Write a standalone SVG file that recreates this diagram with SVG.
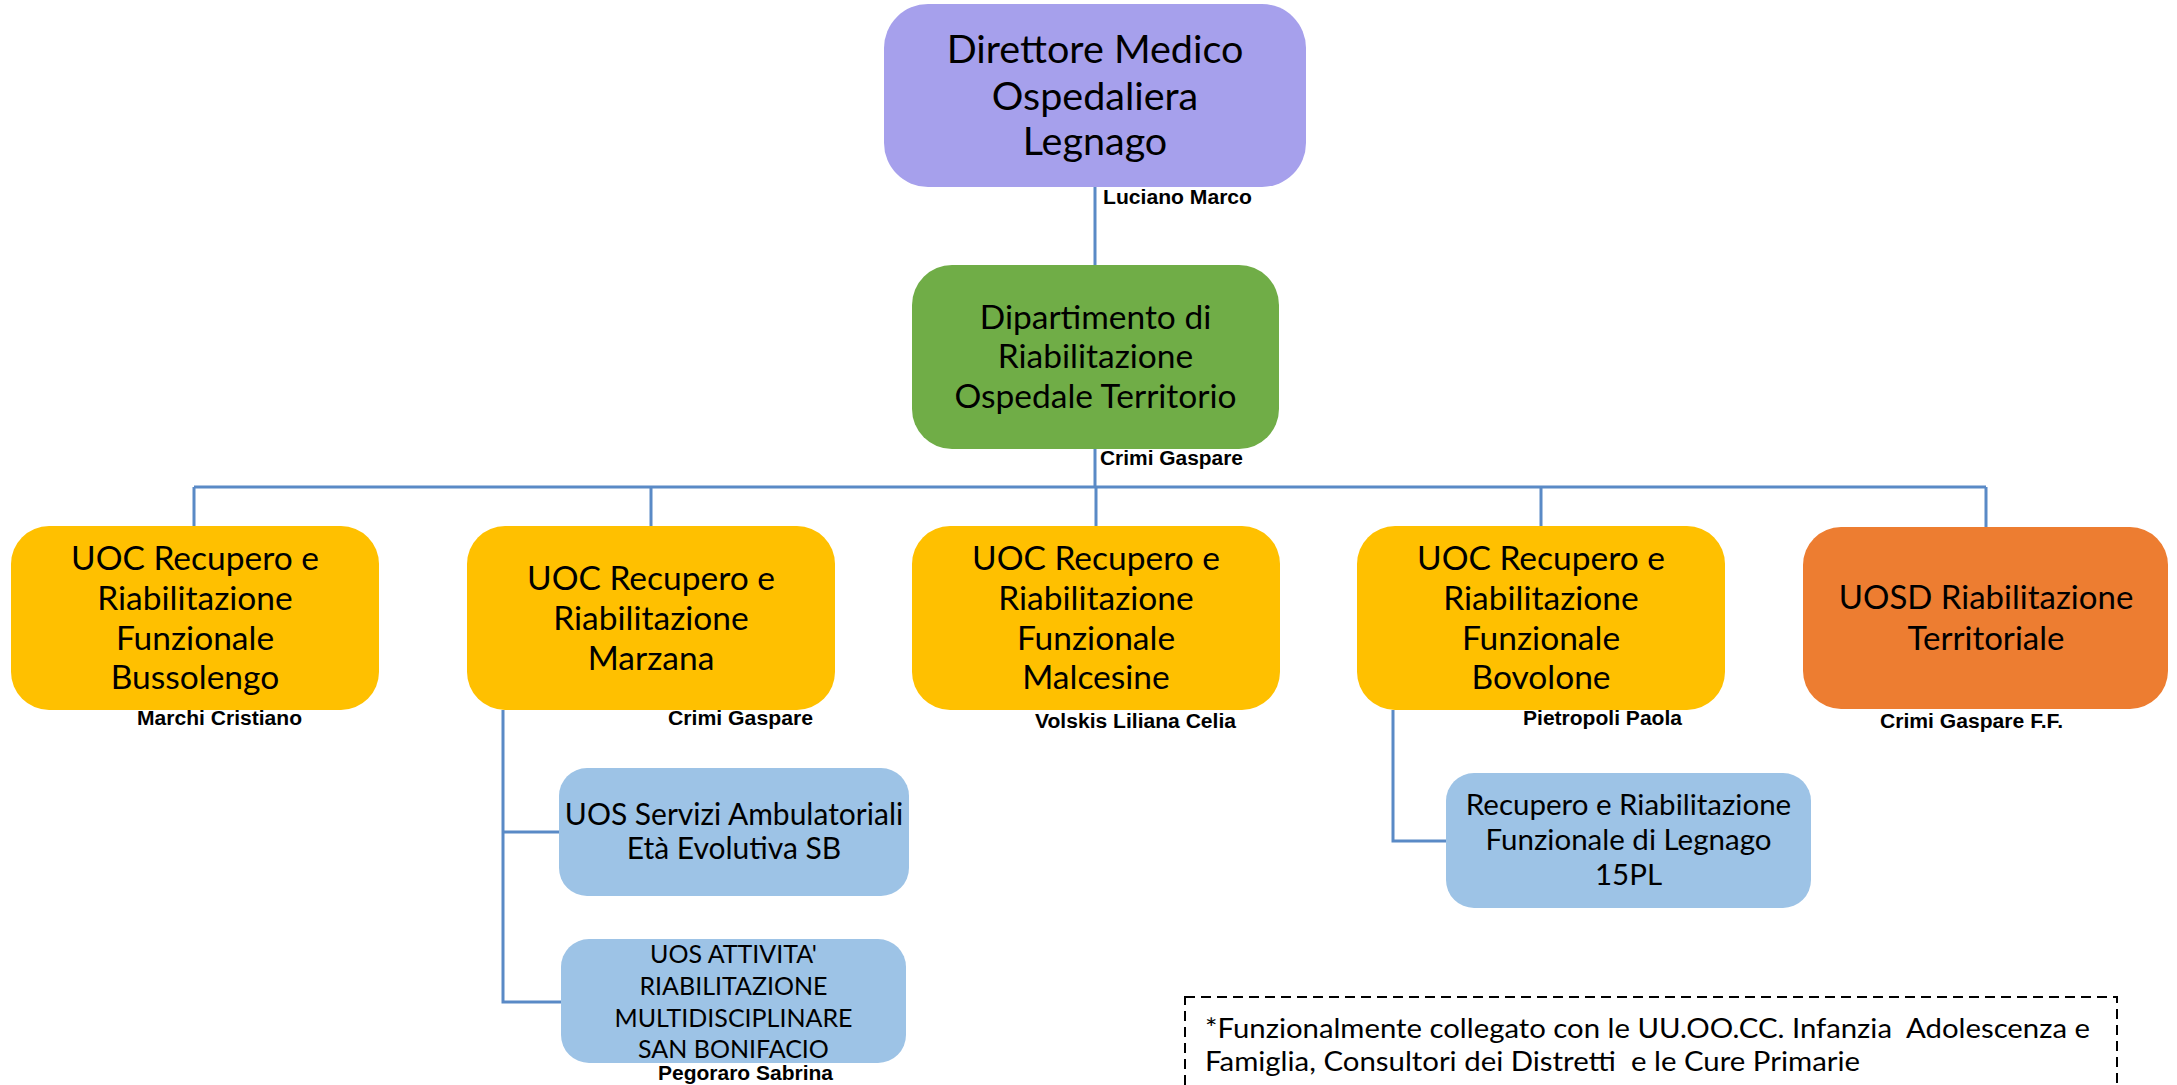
<svg xmlns="http://www.w3.org/2000/svg" width="2177" height="1085" viewBox="0 0 2177 1085">
<style>
.t{font-family:Lato,"Open Sans","Liberation Sans",sans-serif;fill:#000;text-anchor:middle}
.n{font-family:"Liberation Sans",Arial,sans-serif;font-weight:bold;font-size:20px;fill:#000}
.c{fill:none;stroke:#5A8AC6;stroke-width:3}
</style>
<rect width="2177" height="1085" fill="#fff"/>
<g id="connectors">
<path class="c" d="M1095 187V487M194 487H1986M194 487V526M651 487V526M1096 487V526M1541 487V526M1986 487V527"/>
<path class="c" d="M503 710V1002H561M503 832H559"/>
<path class="c" d="M1393 710V841H1446"/>
</g>
<g id="n-direttore">
<rect x="884" y="4" width="422" height="183" rx="44" fill="#A6A0EC"/>
<text class="t" font-size="39.5"><tspan x="1095" y="63">Direttore Medico</tspan><tspan x="1095" y="110">Ospedaliera</tspan><tspan x="1095" y="155">Legnago</tspan></text>
<text class="n" x="1103" y="204" textLength="149" lengthAdjust="spacingAndGlyphs">Luciano Marco</text>
</g>
<g id="n-dipartimento">
<rect x="912" y="265" width="367" height="184" rx="40" fill="#70AD47"/>
<text class="t" font-size="33.5"><tspan x="1095.5" y="329">Dipartimento di</tspan><tspan x="1095.5" y="368">Riabilitazione</tspan><tspan x="1095.5" y="408">Ospedale Territorio</tspan></text>
<text class="n" x="1100" y="465" textLength="143" lengthAdjust="spacingAndGlyphs">Crimi Gaspare</text>
</g>
<g id="n-bussolengo">
<rect x="11" y="526" width="368" height="184" rx="38" fill="#FFC000"/>
<text class="t" font-size="33.5"><tspan x="195" y="570">UOC Recupero e</tspan><tspan x="195" y="610">Riabilitazione</tspan><tspan x="195" y="650">Funzionale</tspan><tspan x="195" y="689">Bussolengo</tspan></text>
<text class="n" x="137" y="725" textLength="165" lengthAdjust="spacingAndGlyphs">Marchi Cristiano</text>
</g>
<g id="n-marzana">
<rect x="467" y="526" width="368" height="184" rx="38" fill="#FFC000"/>
<text class="t" font-size="33.5"><tspan x="651" y="590">UOC Recupero e</tspan><tspan x="651" y="630">Riabilitazione</tspan><tspan x="651" y="670">Marzana</tspan></text>
<text class="n" x="668" y="725" textLength="145" lengthAdjust="spacingAndGlyphs">Crimi Gaspare</text>
</g>
<g id="n-malcesine">
<rect x="912" y="526" width="368" height="184" rx="38" fill="#FFC000"/>
<text class="t" font-size="33.5"><tspan x="1096" y="570">UOC Recupero e</tspan><tspan x="1096" y="610">Riabilitazione</tspan><tspan x="1096" y="650">Funzionale</tspan><tspan x="1096" y="689">Malcesine</tspan></text>
<text class="n" x="1035" y="728" textLength="201" lengthAdjust="spacingAndGlyphs">Volskis Liliana Celia</text>
</g>
<g id="n-bovolone">
<rect x="1357" y="526" width="368" height="184" rx="38" fill="#FFC000"/>
<text class="t" font-size="33.5"><tspan x="1541" y="570">UOC Recupero e</tspan><tspan x="1541" y="610">Riabilitazione</tspan><tspan x="1541" y="650">Funzionale</tspan><tspan x="1541" y="689">Bovolone</tspan></text>
<text class="n" x="1523" y="725" textLength="159" lengthAdjust="spacingAndGlyphs">Pietropoli Paola</text>
</g>
<g id="n-uosd">
<rect x="1803" y="527" width="365" height="182" rx="38" fill="#ED7D31"/>
<text class="t" font-size="33"><tspan x="1986" y="609">UOSD Riabilitazione</tspan><tspan x="1986" y="650">Territoriale</tspan></text>
<text class="n" x="1880" y="728" textLength="183" lengthAdjust="spacingAndGlyphs">Crimi Gaspare F.F.</text>
</g>
<g id="n-uos-servizi">
<rect x="559" y="768" width="350" height="128" rx="28" fill="#9DC3E6"/>
<text class="t" font-size="30"><tspan x="734" y="825">UOS Servizi Ambulatoriali</tspan><tspan x="734" y="859">Età Evolutiva SB</tspan></text>
</g>
<g id="n-uos-attivita">
<rect x="561" y="939" width="345" height="124" rx="28" fill="#9DC3E6"/>
<text class="t" font-size="25"><tspan x="733.5" y="963">UOS ATTIVITA'</tspan><tspan x="733.5" y="995">RIABILITAZIONE</tspan><tspan x="733.5" y="1027">MULTIDISCIPLINARE</tspan><tspan x="733.5" y="1058">SAN BONIFACIO</tspan></text>
<text class="n" x="658" y="1080" textLength="175" lengthAdjust="spacingAndGlyphs">Pegoraro Sabrina</text>
</g>
<g id="n-legnago">
<rect x="1446" y="773" width="365" height="135" rx="28" fill="#9DC3E6"/>
<text class="t" font-size="29.5"><tspan x="1628.5" y="815">Recupero e Riabilitazione</tspan><tspan x="1628.5" y="850">Funzionale di Legnago</tspan><tspan x="1628.5" y="885">15PL</tspan></text>
</g>
<g id="note">
<rect x="1185" y="997" width="932" height="120" fill="none" stroke="#000" stroke-width="2" stroke-dasharray="10 6"/>
<text xml:space="preserve" style="white-space:pre" font-family="Lato,'Open Sans',sans-serif" font-size="26" fill="#000"><tspan x="1205" y="1038" textLength="885" lengthAdjust="spacingAndGlyphs">*Funzionalmente collegato con le UU.OO.CC. Infanzia  Adolescenza e</tspan><tspan x="1205" y="1071" textLength="655" lengthAdjust="spacingAndGlyphs">Famiglia, Consultori dei Distretti  e le Cure Primarie</tspan></text>
</g>
</svg>
